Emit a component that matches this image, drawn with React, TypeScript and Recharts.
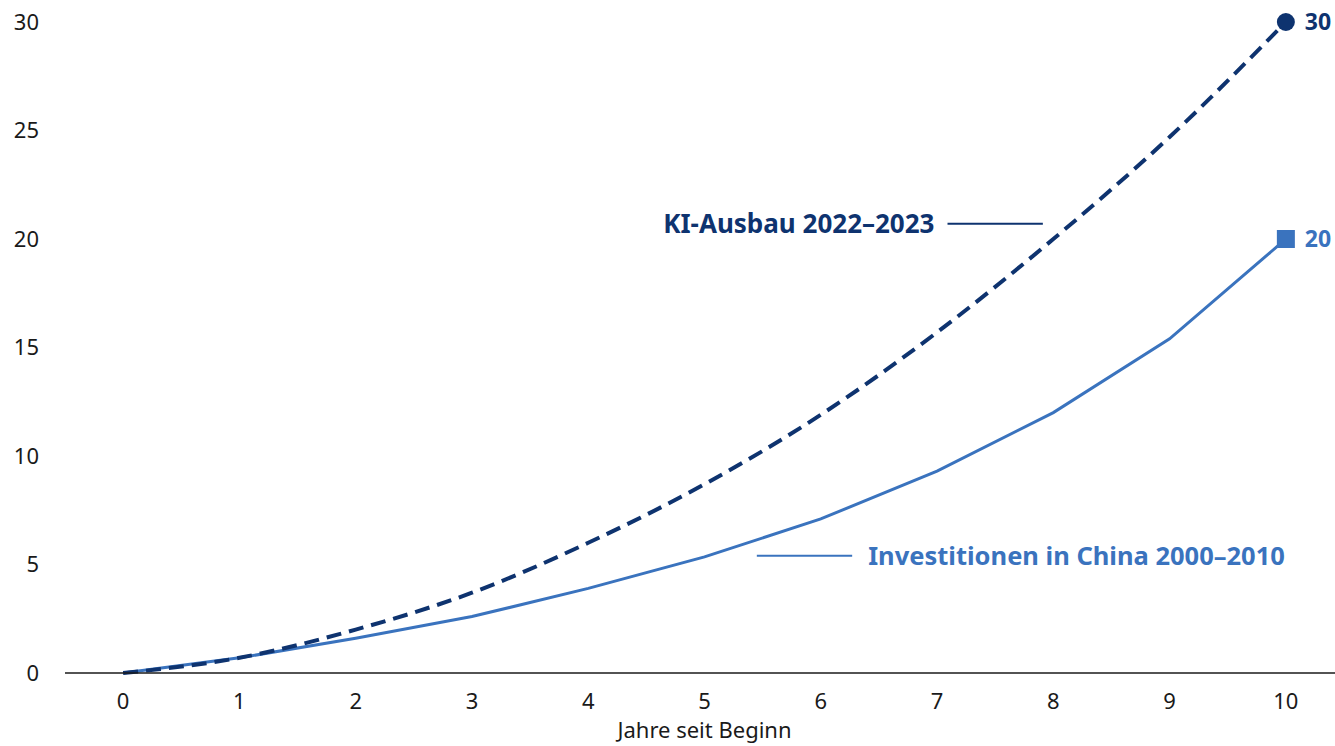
import { CartesianGrid, Label, LabelList, Line, LineChart, ReferenceLine, XAxis, YAxis } from "recharts";

const years = [0, 1, 2, 3, 4, 5, 6, 7, 8, 9, 10];
const aiBuildout = [0, 0.7, 2.0, 3.7, 6.0, 8.7, 11.9, 15.7, 20.0, 24.7, 30];
const chinaInvestment = [0, 0.7, 1.6, 2.6, 3.9, 5.35, 7.1, 9.3, 12.0, 15.4, 20];
const yTicks = [0, 5, 10, 15, 20, 25, 30];

const AI_LABEL = "KI-Ausbau 2022–2023";
const CHINA_LABEL = "Investitionen in China 2000–2010";

const DARK = "#0e336f";
const LIGHT = "#3a73be";
const FONT = "'Noto Sans', sans-serif";

const data = years.map((year, i) => ({
  year,
  ai: aiBuildout[i],
  china: chinaInvestment[i],
}));
const last = years.length - 1;

const endLabel = (color: string) => (props: any) => {
  if (props.index !== last) return null;
  return (
    <text
      x={props.x + 19}
      y={props.y}
      dy="0.36em"
      fill={color}
      fontSize={23}
      fontWeight={700}
      fontFamily={FONT}
    >
      {props.value}
    </text>
  );
};

export default function App() {
  return (
    <div
      style={{
        position: "absolute",
        left: 0,
        top: 0,
        width: 1335,
        height: 746,
        overflow: "hidden",
        background: "#fff",
        fontFamily: FONT,
      }}
    >
      <LineChart
        width={1357}
        height={746}
        data={data}
        margin={{ top: 22, right: 13, bottom: 0, left: 0 }}
      >
        <CartesianGrid horizontal={false} vertical={false} />
        <XAxis
          dataKey="year"
          type="number"
          domain={[-0.5, 10.5]}
          ticks={years}
          height={73}
          tickSize={0}
          tickMargin={20}
          axisLine={{ stroke: "#1a1a1a", strokeWidth: 1.5 }}
          tick={{ fill: "#1a1a1a", fontSize: 22, fontFamily: FONT }}
        >
          <Label
            value="Jahre seit Beginn"
            position="insideBottom"
            offset={8}
            fill="#1a1a1a"
            fontSize={22}
            fontFamily={FONT}
          />
        </XAxis>
        <YAxis
          domain={[0, 30]}
          ticks={yTicks}
          width={65}
          tickSize={0}
          tickMargin={26}
          axisLine={false}
          tick={{ fill: "#1a1a1a", fontSize: 22, fontFamily: FONT }}
        />

        {/* connector lines beside the series names */}
        <ReferenceLine
          segment={[
            { x: 7.09, y: 20.7 },
            { x: 7.91, y: 20.7 },
          ]}
          stroke={DARK}
          strokeWidth={2}
          label={{
            value: AI_LABEL,
            position: "left",
            offset: 13,
            fill: DARK,
            fontSize: 26,
            fontWeight: 700,
            fontFamily: FONT,
          }}
        />
        <ReferenceLine
          segment={[
            { x: 5.45, y: 5.4 },
            { x: 6.27, y: 5.4 },
          ]}
          stroke={LIGHT}
          strokeWidth={2}
          label={{
            value: CHINA_LABEL,
            position: "right",
            offset: 16,
            fill: LIGHT,
            fontSize: 25.5,
            fontWeight: 700,
            fontFamily: FONT,
          }}
        />

        <Line
          dataKey="china"
          type="linear"
          stroke={LIGHT}
          strokeWidth={3}
          isAnimationActive={false}
          dot={(p: any) =>
            p.index === last ? (
              <rect key="china-end" x={p.cx - 9} y={p.cy - 9} width={18} height={18} fill={LIGHT} />
            ) : (
              <g key={`china-${p.index}`} />
            )
          }
          activeDot={false}
        >
          <LabelList dataKey="china" content={endLabel(LIGHT)} />
        </Line>
        <Line
          dataKey="ai"
          type="monotone"
          stroke={DARK}
          strokeWidth={4}
          strokeDasharray="15 8"
          isAnimationActive={false}
          dot={(p: any) =>
            p.index === last ? (
              <circle key="ai-end" cx={p.cx} cy={p.cy} r={9} fill={DARK} />
            ) : (
              <g key={`ai-${p.index}`} />
            )
          }
          activeDot={false}
        >
          <LabelList dataKey="ai" content={endLabel(DARK)} />
        </Line>
      </LineChart>
    </div>
  );
}
